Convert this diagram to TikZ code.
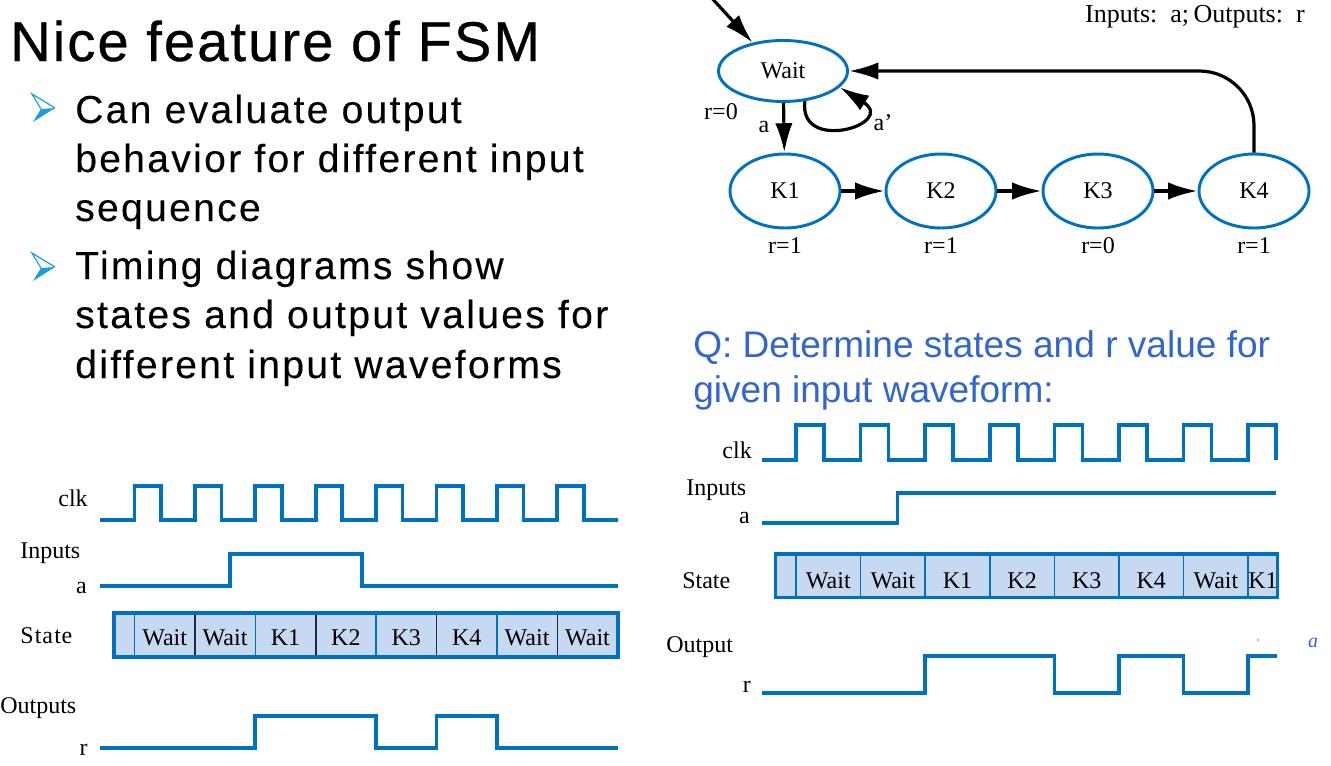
\documentclass[tikz,border=0pt]{standalone}
\usepackage{fontspec}
\setmainfont{Liberation Serif}
\newfontfamily\titlefont[LetterSpace=3.8,FakeBold=0.6]{Liberation Sans}
\newfontfamily\bulletfont[LetterSpace=6.0,FakeBold=0.2]{Liberation Sans}
\newfontfamily\qfont{Liberation Sans}
\usetikzlibrary{arrows.meta,shapes.geometric}
\definecolor{wblue}{HTML}{0070C0}
\definecolor{cellblue}{HTML}{C6D9F1}
\definecolor{qblue}{HTML}{3366CC}
\definecolor{bulletblue}{HTML}{1A9ED9}
\definecolor{divdark}{HTML}{1F2A44}
\tikzset{
  wave/.style={draw=wblue, line width=2.8pt, line join=miter},
  tlabel/.style={inner sep=0pt, font=\fontsize{18}{18}\selectfont},
  celltext/.style={inner sep=0pt, anchor=base, font=\fontsize{18}{18}\selectfont},
  fsm/.style={ellipse, draw=wblue, line width=2.2pt, inner sep=0pt,
              font=\fontsize{18}{18}\selectfont},
  fsmtext/.style={inner sep=0pt, font=\fontsize{18}{18}\selectfont},
  arr/.style={draw=black, line width=2.4pt, -{Latex[length=22pt,width=13pt]}},
  bodyline/.style={anchor=base west, inner sep=0pt, font=\bulletfont\fontsize{29.25}{29.25}\selectfont},
  qline/.style={anchor=base west, inner sep=0pt, text=qblue, font=\qfont\fontsize{27.8}{27.8}\selectfont},
  bulletpic/.pic={
    \fill[bulletblue] (41,1) -- (55,0) -- (33,14) -- cycle;
    \draw[bulletblue, line width=0.9pt, line join=miter] (41,1) -- (32,-14) -- (55,0);
  }
}
\begin{document}
\begin{tikzpicture}[x=0.75pt,y=-0.75pt]
\useasboundingbox (0,0) rectangle (1331,765);

% ---------- title and bullet text ----------
\node[anchor=base west, inner sep=0pt, font=\titlefont\fontsize{42}{42}\selectfont] (title) at (10,61) {Nice feature of FSM};

\pic (b1) at (0,108) {bulletpic};
\node[bodyline] (l1) at (75,123) {Can evaluate output};
\node[bodyline] (l2) at (75,172) {behavior for different input};
\node[bodyline] (l3) at (75,221) {sequence};

\pic (b2) at (0,267) {bulletpic};
\node[bodyline] (l4) at (75,279) {Timing diagrams show};
\node[bodyline] (l5) at (75,328) {states and output values for};
\node[bodyline] (l6) at (75,378) {different input waveforms};

% ---------- state diagram ----------
\node[anchor=base east, inner sep=0pt, font=\fontsize{19.5}{19.5}\selectfont] (io) at (1305,22) {Inputs:~~a;\,Outputs:~~r};

\node[fsm, minimum width=96.75pt, minimum height=45.75pt] (Wait) at (783,71) {Wait};
\node[fsm, minimum width=82.5pt, minimum height=55.5pt] (K1) at (785,191) {K1};
\node[fsm, minimum width=82.5pt, minimum height=55.5pt] (K2) at (941,191) {K2};
\node[fsm, minimum width=82.5pt, minimum height=55.5pt] (K3) at (1098,191) {K3};
\node[fsm, minimum width=82.5pt, minimum height=55.5pt] (K4) at (1254,191) {K4};

\node[fsmtext] (rW) at (721,112) {r=0};
\node[fsmtext] (r1) at (785,246) {r=1};
\node[fsmtext] (r2) at (941,246) {r=1};
\node[fsmtext] (r3) at (1098,246) {r=0};
\node[fsmtext] (r4) at (1254,246) {r=1};
\node[fsmtext] (la) at (764,127) {a};
\node[fsmtext] (lna) at (883,123) {a’};

\coordinate (init) at (709,-5);
\draw[arr] (init) -- (Wait.137);
\draw[arr] (Wait) -- (K1);
\draw[arr] (Wait.-54) .. controls (798,154) and (898,124) .. (Wait.-16);
\draw[arr] (K1) -- (K2);
\draw[arr] (K2) -- (K3);
\draw[arr] (K3) -- (K4);
\draw[arr, rounded corners=41pt] (K4) |- (Wait);

% ---------- question ----------
\node[qline] (q1) at (693,357) {Q: Determine states and r value for};
\node[qline] (q2) at (693,402) {given input waveform:};

% ---------- left timing diagram ----------
\node[tlabel, anchor=base east] (Lclk) at (88,506) {clk};
\node[tlabel, anchor=base west] (Lin) at (20,558) {Inputs};
\node[tlabel, anchor=base east] (La) at (87,593) {a};
\node[tlabel, anchor=base west] (Lst) at (20,643) {S\kern1pt t\kern0.5pt a\kern1pt t\kern0.5pt e};
\node[tlabel, anchor=base west] (Lout) at (0,713) {Outputs};
\node[tlabel, anchor=base east] (Lr) at (88,755) {r};

\draw[wave] (100,520) foreach \k in {0,...,7} {
  -- ({134.5+60.4*\k},520) -- ({134.5+60.4*\k},486)
  -- ({161+60.4*\k},486) -- ({161+60.4*\k},520) } -- (618,520);
\draw[wave] (100,586) -- (230,586) -- (230,554) -- (362,554) -- (362,586) -- (618,586);
\draw[wave] (100,748) -- (255.3,748) -- (255.3,716) -- (376.1,716) -- (376.1,748)
  -- (436.5,748) -- (436.5,716) -- (496.9,716) -- (496.9,748) -- (618,748);

\fill[cellblue] (114,613) rectangle (618,657);
\foreach \k in {0,2,4,6} \draw[wblue, line width=1.2pt] ({134.5+60.4*\k},613) -- ({134.5+60.4*\k},657);
\foreach \k in {1,3,5,7} \draw[divdark, line width=1.2pt] ({134.5+60.4*\k},613) -- ({134.5+60.4*\k},657);
\foreach \s [count=\k from 0] in {Wait,Wait,K1,K2,K3,K4,Wait,Wait}
  \node[celltext] (Ls\k) at ({134.5+60.4*(\k+0.5)},645) {\s};
\draw[wblue, line width=2.6pt] (114,613) rectangle (618,657);

% ---------- right timing diagram ----------
\node[tlabel, anchor=base east] (Rclk) at (752,458) {clk};
\node[tlabel, anchor=base west] (Rin) at (686,495) {Inputs};
\node[tlabel, anchor=base east] (Ra) at (750,523) {a};
\node[tlabel, anchor=base west] (Rst) at (682,588) {State};
\node[tlabel, anchor=base west] (Rout) at (666,652) {Output};
\node[tlabel, anchor=base east] (Rr) at (751,692) {r};

\draw[wave] (762,460) foreach \k in {0,...,7} {
  -- ({796+64.6*\k},460) -- ({796+64.6*\k},425)
  -- ({824+64.6*\k},425) -- ({824+64.6*\k},460) };
\draw[wave] (762,523) -- (897.6,523) -- (897.6,493) -- (1276,493);
\draw[wave] (762,693) -- (925.2,693) -- (925.2,656) -- (1054.4,656) -- (1054.4,693)
  -- (1119,693) -- (1119,656) -- (1183.6,656) -- (1183.6,693)
  -- (1248.2,693) -- (1248.2,656) -- (1277,656);

\fill[cellblue] (775.5,554) rectangle (1277.5,597.5);
\foreach \k in {0,...,7} \draw[wblue, line width=1.2pt] ({796+64.6*\k},554) -- ({796+64.6*\k},597.5);
\foreach \s [count=\k from 0] in {Wait,Wait,K1,K2,K3,K4,Wait}
  \node[celltext] (Rs\k) at ({796+64.6*(\k+0.5)},588) {\s};
\node[celltext] (Rs7) at (1263,588) {K1};
\draw[wblue, line width=2.6pt] (775.5,554) rectangle (1277.5,597.5);

\fill[gray] (1258,640) circle (0.8);
\node[inner sep=0pt, text=qblue, font=\itshape\fontsize{15}{15}\selectfont] (tinya) at (1313,643) {a};
\end{tikzpicture}
\end{document}
